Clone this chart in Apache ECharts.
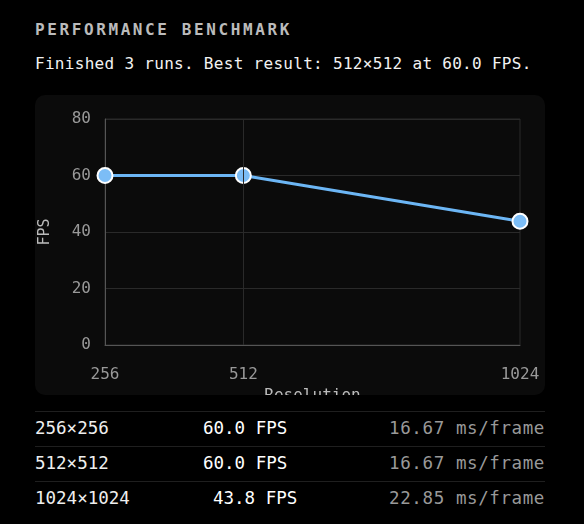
<!DOCTYPE html>
<html>
<head>
<meta charset="utf-8">
<script src="https://cdn.jsdelivr.net/npm/echarts@6/dist/echarts.min.js"></script>
<style>
  body { margin: 0; background: #000; font-family: "DejaVu Sans Mono", monospace; color: #eee; }
  .title { position: absolute; left: 35px; top: 20px; font-size: 16px; font-weight: bold; letter-spacing: 2.6px; color: #bbb; }
  .sub { position: absolute; left: 35px; top: 54px; font-size: 16px; letter-spacing: 0.3px; color: #f2f2f2; }
  .panel { position: absolute; left: 35px; top: 95px; width: 510px; height: 300px; background: #0b0b0b; border-radius: 10px; }
  #chart { width: 510px; height: 300px; }
  .table { position: absolute; left: 35px; top: 411px; width: 510px; font-size: 17.5px; }
  .row { position: relative; height: 34px; border-top: 1px solid #1f1f1f; }
  .row span { position: absolute; top: 6px; }
  .c1 { left: 0; color: #eee; }
  .c2 { color: #fff; }
  .c3 { right: 0; color: #999; letter-spacing: 0.6px; }
</style>
</head>
<body>
<div class="title">PERFORMANCE BENCHMARK</div>
<div class="sub">Finished 3 runs. Best result: 512×512 at 60.0 FPS.</div>
<div class="panel"><div id="chart"></div></div>
<div class="table" id="table"></div>
<script>
const resolutions = [256, 512, 1024];
const fps = [60.0, 60.0, 43.8];
const msPerFrame = [16.67, 16.67, 22.85];
const fpsColLeft = [168, 168, 178];

const table = document.getElementById("table");
resolutions.forEach((r, i) => {
  const row = document.createElement("div");
  row.className = "row";
  row.innerHTML =
    '<span class="c1">' + r + "×" + r + "</span>" +
    '<span class="c2" style="left:' + fpsColLeft[i] + 'px">' + fps[i].toFixed(1) + " FPS</span>" +
    '<span class="c3">' + msPerFrame[i].toFixed(2) + " ms/frame</span>";
  table.appendChild(row);
});

const chart = echarts.init(document.getElementById("chart"), null, { renderer: "canvas" });
const font = "DejaVu Sans Mono";
chart.setOption({
  animation: false,
  grid: {
    left: 70, right: 25, top: 24, bottom: 50, outerBoundsMode: "none", containLabel: false,
    show: true, borderColor: "#2a2a2a", borderWidth: 1
  },
  xAxis: {
    type: "value", min: 256, max: 1024, interval: 256,
    name: "Resolution", nameLocation: "middle", nameGap: 40,
    nameTextStyle: { color: "#bbb", fontFamily: font, fontSize: 16 },
    axisLine: { lineStyle: { color: "#555" } },
    axisTick: { show: false },
    splitLine: { show: false },
    axisLabel: {
      color: "#999", fontFamily: font, fontSize: 16, margin: 22,
      formatter: v => (resolutions.includes(v) ? String(v) : "")
    }
  },
  yAxis: {
    type: "value", min: 0, max: 80, interval: 20,
    name: "FPS", nameLocation: "middle", nameGap: 52,
    nameTextStyle: { color: "#bbb", fontFamily: font, fontSize: 15 },
    axisLine: { show: true, lineStyle: { color: "#555" } },
    axisTick: { show: false },
    splitLine: { lineStyle: { color: "#2a2a2a" } },
    axisLabel: { color: "#999", fontFamily: font, fontSize: 16, margin: 14 }
  },
  series: [{
    type: "line",
    data: resolutions.map((r, i) => [r, fps[i]]),
    lineStyle: { color: "#6cb6f5", width: 3 },
    symbol: "circle", symbolSize: 15,
    itemStyle: { color: "#7cbdf6", borderColor: "#fff", borderWidth: 2 },
    markLine: {
      silent: true, symbol: "none", label: { show: false },
      lineStyle: { color: "#2a2a2a", type: "solid", width: 1 },
      data: [{ xAxis: 512 }]
    },
    z: 3
  }]
});
</script>
</body>
</html>
